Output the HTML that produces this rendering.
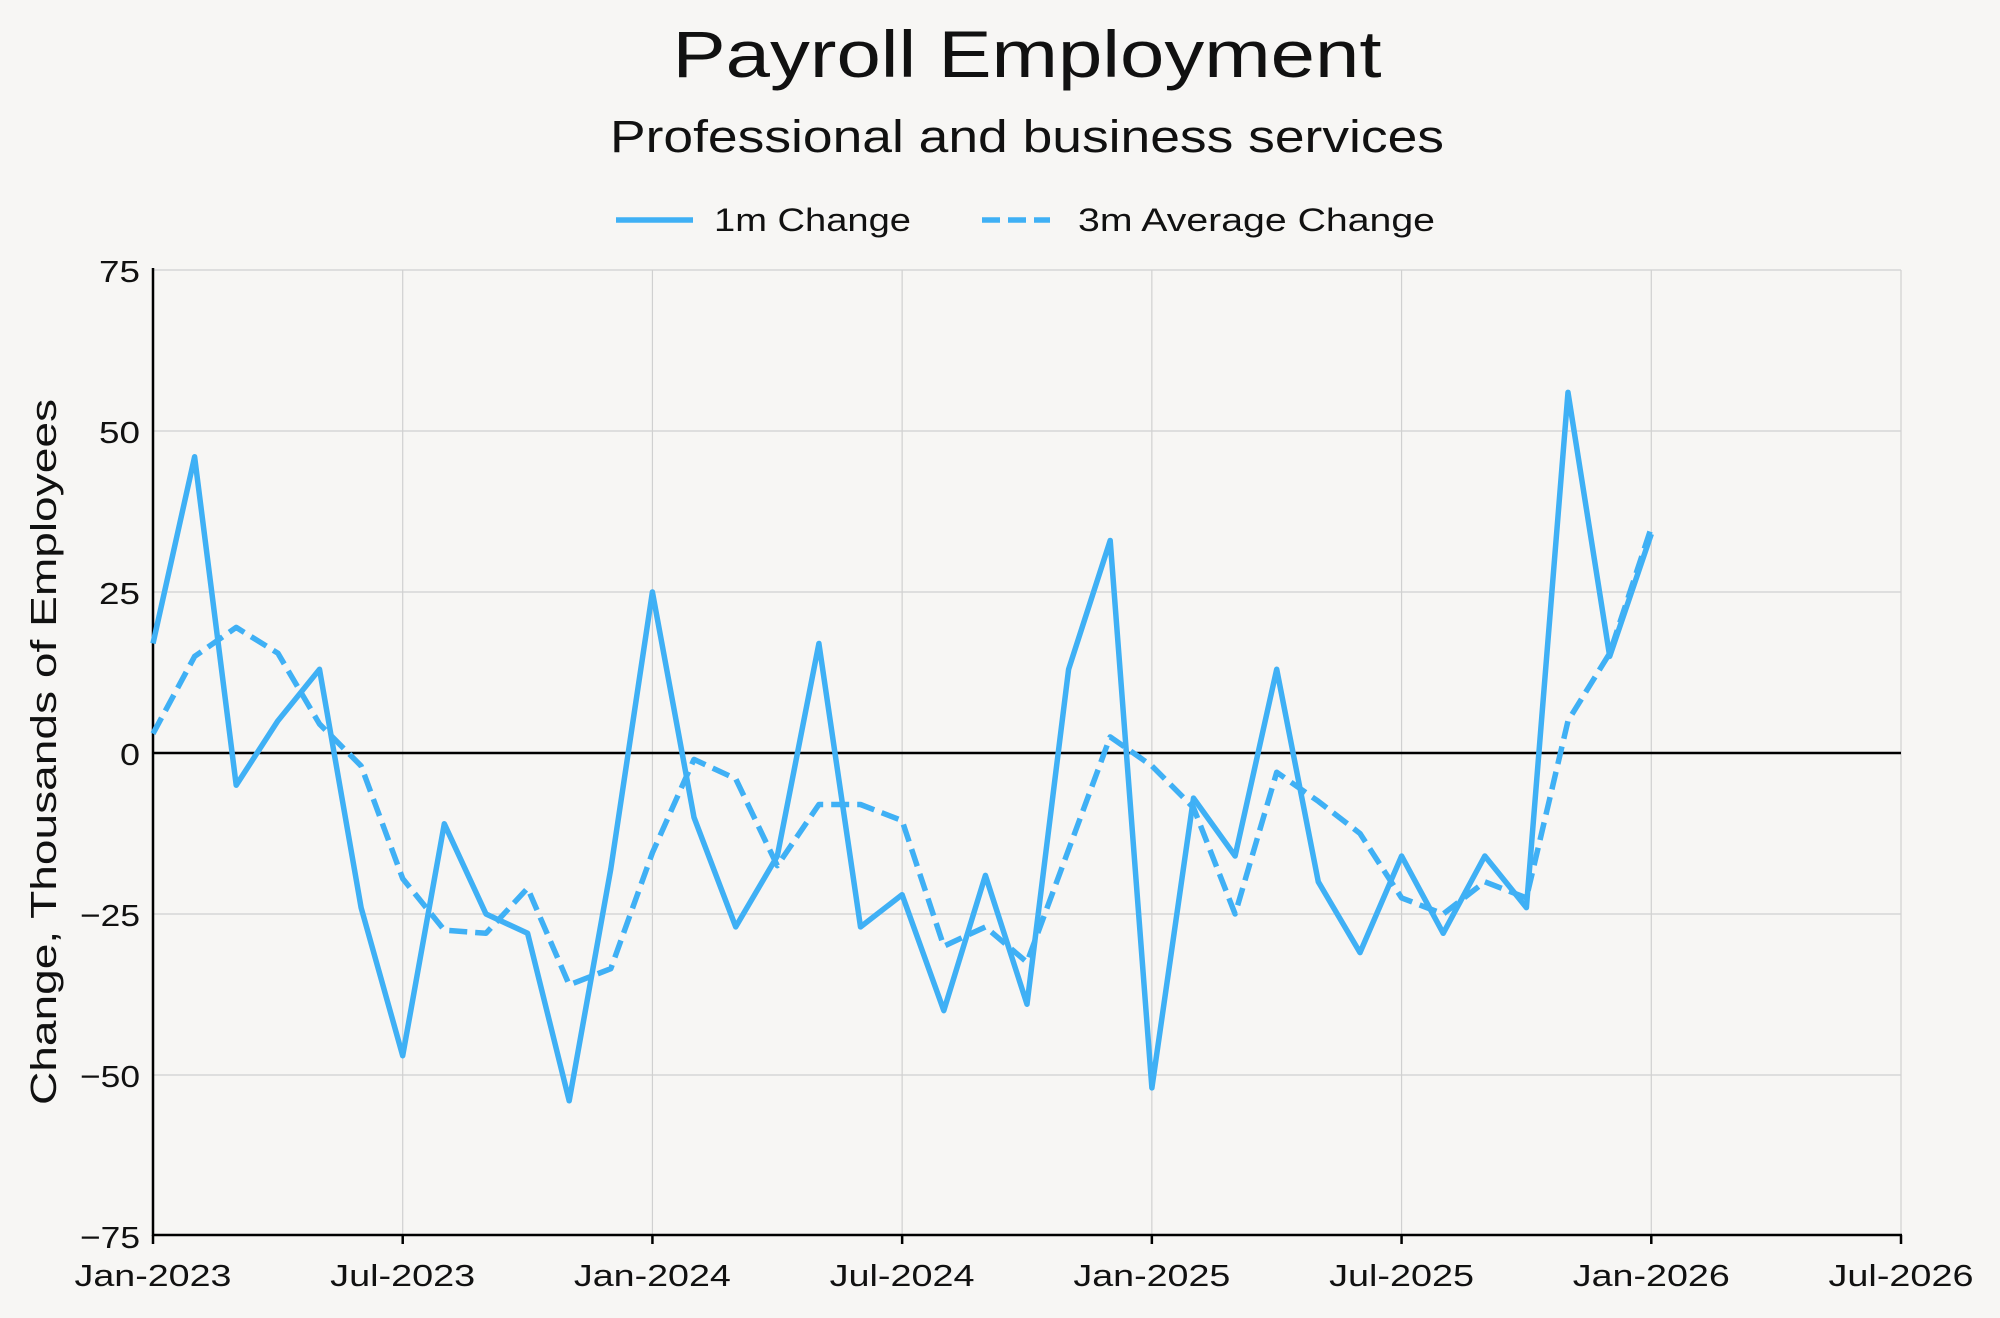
<!DOCTYPE html>
<html><head><meta charset="utf-8"><style>
html,body{margin:0;padding:0;background:#f7f6f4;}
svg{display:block;font-family:"Liberation Sans",sans-serif;}
</style></head><body>
<svg id="s" width="2000" height="1318" viewBox="0 0 2000 1318" xmlns="http://www.w3.org/2000/svg">
<rect width="2000" height="1318" fill="#f7f6f4"/>
<g id="grid" stroke="#d0d0d0" stroke-width="1.2"></g>
<line x1="153" y1="753" x2="1901" y2="753" stroke="#000" stroke-width="2.5"/>
<line x1="153" y1="268" x2="153" y2="1236" stroke="#000" stroke-width="2.5"/>
<line x1="152" y1="1235" x2="1902" y2="1235" stroke="#000" stroke-width="2.5"/>
<g id="ticks" stroke="#000" stroke-width="2.5"></g>
<g font-size="31" fill="#111" text-anchor="end" lengthAdjust="spacingAndGlyphs">
<text x="140" y="282" textLength="41" lengthAdjust="spacingAndGlyphs">75</text>
<text x="140" y="443" textLength="41" lengthAdjust="spacingAndGlyphs">50</text>
<text x="140" y="604" textLength="41" lengthAdjust="spacingAndGlyphs">25</text>
<text x="140" y="765" textLength="20" lengthAdjust="spacingAndGlyphs">0</text>
<text x="140" y="926" textLength="60" lengthAdjust="spacingAndGlyphs">−25</text>
<text x="140" y="1087" textLength="60" lengthAdjust="spacingAndGlyphs">−50</text>
<text x="140" y="1248" textLength="60" lengthAdjust="spacingAndGlyphs">−75</text>
</g>
<g font-size="31" fill="#111" text-anchor="middle">
<text x="153" y="1286" textLength="157" lengthAdjust="spacingAndGlyphs">Jan-2023</text>
<text x="402.7" y="1286" textLength="145" lengthAdjust="spacingAndGlyphs">Jul-2023</text>
<text x="652.4" y="1286" textLength="157" lengthAdjust="spacingAndGlyphs">Jan-2024</text>
<text x="902.1" y="1286" textLength="145" lengthAdjust="spacingAndGlyphs">Jul-2024</text>
<text x="1151.9" y="1286" textLength="157" lengthAdjust="spacingAndGlyphs">Jan-2025</text>
<text x="1401.6" y="1286" textLength="145" lengthAdjust="spacingAndGlyphs">Jul-2025</text>
<text x="1651.3" y="1286" textLength="157" lengthAdjust="spacingAndGlyphs">Jan-2026</text>
<text x="1901" y="1286" textLength="145" lengthAdjust="spacingAndGlyphs">Jul-2026</text>
</g>
<text x="1027" y="77" font-size="66" text-anchor="middle" fill="#111" textLength="709" lengthAdjust="spacingAndGlyphs">Payroll Employment</text>
<text x="1027" y="152" font-size="45" text-anchor="middle" fill="#111" textLength="834" lengthAdjust="spacingAndGlyphs">Professional and business services</text>
<line x1="616" y1="220" x2="693" y2="220" stroke="#3fb0f5" stroke-width="5.5"/>
<text x="714" y="231" font-size="32" fill="#111" textLength="197" lengthAdjust="spacingAndGlyphs">1m Change</text>
<line x1="982" y1="220" x2="1050" y2="220" stroke="#3fb0f5" stroke-width="5.5" stroke-dasharray="18,8"/>
<text x="1078" y="231" font-size="32" fill="#111" textLength="357" lengthAdjust="spacingAndGlyphs">3m Average Change</text>
<text transform="translate(56,752) rotate(-90)" font-size="36" text-anchor="middle" fill="#111" textLength="706" lengthAdjust="spacingAndGlyphs">Change, Thousands of Employees</text>
<polyline id="p1" fill="none" stroke="#3fb0f5" stroke-width="5.5" stroke-linejoin="round"/>
<polyline id="p3" fill="none" stroke="#3fb0f5" stroke-width="5.5" stroke-dasharray="18,8" stroke-linejoin="round"/>
</svg>
<script>
var X=function(m){return 153+m*(1748/42);},Y=function(v){return 753-v*6.44;};
var ns="http://www.w3.org/2000/svg",g=document.getElementById("grid"),t=document.getElementById("ticks");
for(var v=-50;v<=75;v+=25){var l=document.createElementNS(ns,"line");l.setAttribute("x1",153);l.setAttribute("x2",1901);l.setAttribute("y1",Y(v));l.setAttribute("y2",Y(v));g.appendChild(l);}
for(var m=6;m<=42;m+=6){var l=document.createElementNS(ns,"line");l.setAttribute("x1",X(m));l.setAttribute("x2",X(m));l.setAttribute("y1",270);l.setAttribute("y2",1235);g.appendChild(l);
var k=document.createElementNS(ns,"line");k.setAttribute("x1",X(m));k.setAttribute("x2",X(m));k.setAttribute("y1",1235);k.setAttribute("y2",1244);t.appendChild(k);}
var k0=document.createElementNS(ns,"line");k0.setAttribute("x1",153);k0.setAttribute("x2",153);k0.setAttribute("y1",1235);k0.setAttribute("y2",1244);t.appendChild(k0);
var a=[17,46,-5,5,13,-24,-47,-11,-25,-28,-54,-18,25,-10,-27,-16,17,-27,-22,-40,-19,-39,13,33,-52,-7,-16,13,-20,-31,-16,-28,-16,-24,56,15,34];
var b=[3,15,19.5,15.5,4.5,-2,-19.5,-27.5,-28,-21,-36,-33.5,-15.5,-1,-4,-17.5,-8,-8,-10.5,-30,-27,-32.5,-15,2.5,-2,-8.5,-25,-3,-7.5,-12.5,-22.5,-25,-20,-22.5,5,15.5,35];
function pts(d){return d.map(function(v,i){return X(i).toFixed(1)+","+Y(v).toFixed(1);}).join(" ");}
document.getElementById("p1").setAttribute("points",pts(a));
document.getElementById("p3").setAttribute("points",pts(b));
</script>
</body></html>
